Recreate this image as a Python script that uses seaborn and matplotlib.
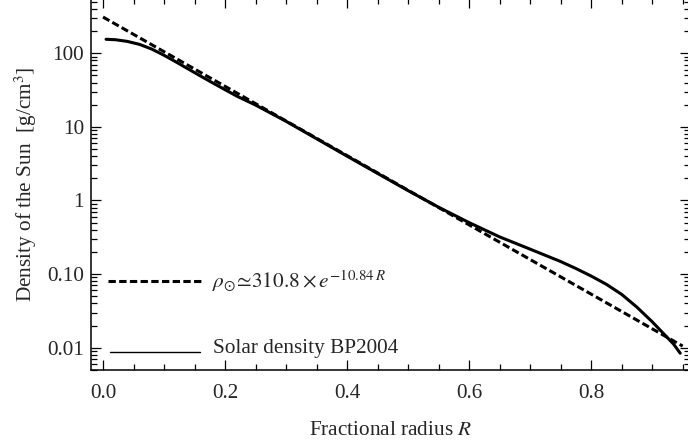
import numpy as np
import pandas as pd
import matplotlib
matplotlib.use("Agg")
import matplotlib.pyplot as plt
from matplotlib.lines import Line2D
from matplotlib.ticker import FixedLocator, MultipleLocator, LogLocator, NullFormatter
import seaborn as sns

# --- datos ---
radius_bp = [0.005, 0.02, 0.04, 0.06, 0.08, 0.10, 0.12, 0.14, 0.16, 0.18, 0.20,
             0.22, 0.25, 0.30, 0.35, 0.40, 0.45, 0.50, 0.55, 0.60, 0.65, 0.70,
             0.75, 0.775, 0.80, 0.825, 0.85, 0.875, 0.90, 0.92, 0.935, 0.946]
density_bp = [155, 153, 145, 132, 114, 94, 76, 61, 49, 39.5, 32,
              26, 19.8, 11.9, 6.9, 4.0, 2.33, 1.36, 0.81, 0.50, 0.32, 0.218,
              0.148, 0.119, 0.094, 0.0725, 0.053, 0.0355, 0.0225, 0.0151, 0.0112, 0.0084]

# ajuste exponencial: extremos del trazo discontinuo
radius_fit = [0.0, 0.95]
density_fit = [310.8, 0.0105]

yticks = [0.01, 0.1, 1, 10, 100]
ytick_labels = ["0.01", "0.10", "1", "10", "100"]
xticks = [0.0, 0.2, 0.4, 0.6, 0.8]
xtick_labels = ["0.0", "0.2", "0.4", "0.6", "0.8"]

df_bp = pd.DataFrame({"R": radius_bp, "rho": density_bp})
df_fit = pd.DataFrame({"R": radius_fit, "rho": density_fit})

# --- estilo ---
sns.set_theme(style="ticks")
plt.rcParams["font.family"] = ["Liberation Serif", "DejaVu Serif"]
plt.rcParams["mathtext.fontset"] = "stix"
fs = 15.3
dash = (0, (2.4, 1.1))

W, H = 688, 447
fig = plt.figure(figsize=(W / 100, H / 100), dpi=100)

def fx(x):
    return x / W

def fy(y):
    return 1 - y / H

# ejes: izquierda 91 px, abajo 370 px
ax = fig.add_axes([fx(91), fy(370), fx(690) - fx(91), fy(-2) - fy(370)])

sns.lineplot(data=df_fit, x="R", y="rho", ax=ax, color="black", lw=2.2,
             linestyle=dash)
sns.lineplot(data=df_bp, x="R", y="rho", ax=ax, color="black", lw=2.2)

ax.set_yscale("log")
ax.set_xlim(-0.0197, 0.962)
ax.set_ylim(0.00497, 564)

ax.xaxis.set_major_locator(FixedLocator(xticks))
ax.set_xticklabels(xtick_labels)
ax.xaxis.set_minor_locator(MultipleLocator(0.05))
ax.yaxis.set_major_locator(FixedLocator(yticks))
ax.set_yticklabels(ytick_labels)
ax.yaxis.set_minor_locator(LogLocator(base=10, subs=np.arange(2, 10)))
ax.yaxis.set_minor_formatter(NullFormatter())

ax.tick_params(which="both", direction="in", top=True, right=True,
               labelsize=fs, color="black", width=0.9)
ax.tick_params(which="major", length=7)
ax.tick_params(which="minor", length=4)
ax.tick_params(axis="x", pad=10)
ax.tick_params(axis="y", pad=5)
for s in ax.spines.values():
    s.set_linewidth(1.1)
    s.set_color("black")

ax.set_xlabel("Fractional radius $R$", fontsize=fs, labelpad=13)
ax.set_ylabel("Density of the Sun  [g/cm$^3$]", fontsize=fs, labelpad=6)

# leyenda manual (estilo Mathematica)
fig.add_artist(Line2D([fx(108), fx(202)], [fy(281), fy(281)], color="black",
                      lw=2.2, linestyle=dash))
fig.text(fx(212), fy(281), r"$\rho_{\odot}\!\simeq\!310.8\times e^{-10.84\,R}$",
         fontsize=fs, va="center", ha="left")
fig.add_artist(Line2D([fx(110), fx(200)], [fy(352), fy(352)], color="black", lw=1.0))
fig.text(fx(213), fy(349), "Solar density BP2004", fontsize=fs,
         va="center", ha="left")

fig.savefig("out.png", dpi=100)
